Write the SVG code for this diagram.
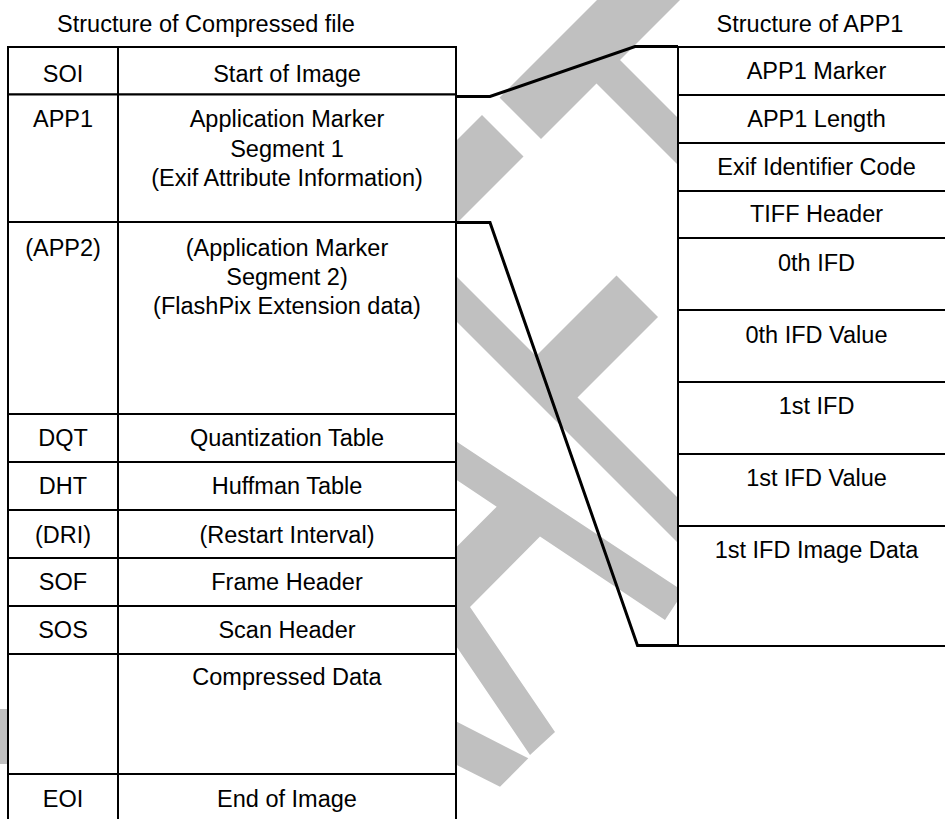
<svg xmlns="http://www.w3.org/2000/svg" width="945" height="819" viewBox="0 0 945 819">
<style>
.t{font-family:"Liberation Sans",Arial,sans-serif;font-size:23.5px;fill:#000;text-anchor:middle}
.c{fill:#fff;stroke:#000;stroke-width:2}
.conn{fill:none;stroke:#000;stroke-width:3;stroke-linejoin:miter}
.wm{fill:#c0c0c0}
</style>
<rect x="0" y="0" width="945" height="819" fill="#fff"/>
<g id="watermark">
<polygon class="wm" points="597,0 680,0 620,60 685,125 685,172 596.5,83.5 541,139 499.5,97.5"/>
<polygon class="wm" points="482,115 523.5,156.5 450,230 450,147"/>
<polygon class="wm" points="450,270 536,356 616.5,275.5 658,317 577.5,397.5 685,505 685,550 450,315"/>
<polygon class="wm" points="450,437.3 683.8,591.6 665,620 540,536.5 470,607 555,732 530,755 450,637 450,553.4 496.7,506.7 450,475.5"/>
<polygon class="wm" points="450,718.3 528.3,758.3 500,786.7 450,761.6"/>
<polygon class="wm" points="0,709 12,709 12,764 0,764"/>
</g>
<text class="t" x="206" y="31.5">Structure of Compressed file</text>
<text class="t" x="810" y="31.5">Structure of APP1</text>
<g id="SOI"><rect class="c" x="8" y="47" width="110" height="47.5"/><rect class="c" x="118" y="47" width="338" height="47.5"/><text class="t" x="63" y="81.5">SOI</text><text class="t" x="287" y="81.5">Start of Image</text></g>
<g id="APP1"><rect class="c" x="8" y="94.5" width="110" height="127.5"/><rect class="c" x="118" y="94.5" width="338" height="127.5"/><text class="t" x="63" y="127">APP1</text><text class="t" x="287" y="127">Application Marker</text><text class="t" x="287" y="156.5">Segment 1</text><text class="t" x="287" y="185.5">(Exif Attribute Information)</text></g>
<g id="APP2"><rect class="c" x="8" y="222" width="110" height="192"/><rect class="c" x="118" y="222" width="338" height="192"/><text class="t" x="63" y="255.5">(APP2)</text><text class="t" x="287" y="255.5">(Application Marker</text><text class="t" x="287" y="284.5">Segment 2)</text><text class="t" x="287" y="313.5">(FlashPix Extension data)</text></g>
<g id="DQT"><rect class="c" x="8" y="414" width="110" height="48"/><rect class="c" x="118" y="414" width="338" height="48"/><text class="t" x="63" y="446">DQT</text><text class="t" x="287" y="446">Quantization Table</text></g>
<g id="DHT"><rect class="c" x="8" y="462" width="110" height="48"/><rect class="c" x="118" y="462" width="338" height="48"/><text class="t" x="63" y="494">DHT</text><text class="t" x="287" y="494">Huffman Table</text></g>
<g id="DRI"><rect class="c" x="8" y="510" width="110" height="48"/><rect class="c" x="118" y="510" width="338" height="48"/><text class="t" x="63" y="542.5">(DRI)</text><text class="t" x="287" y="542.5">(Restart Interval)</text></g>
<g id="SOF"><rect class="c" x="8" y="558" width="110" height="48"/><rect class="c" x="118" y="558" width="338" height="48"/><text class="t" x="63" y="590">SOF</text><text class="t" x="287" y="590">Frame Header</text></g>
<g id="SOS"><rect class="c" x="8" y="606" width="110" height="48"/><rect class="c" x="118" y="606" width="338" height="48"/><text class="t" x="63" y="637.5">SOS</text><text class="t" x="287" y="637.5">Scan Header</text></g>
<g id="CompressedData"><rect class="c" x="8" y="654" width="110" height="120"/><rect class="c" x="118" y="654" width="338" height="120"/><text class="t" x="287" y="685">Compressed Data</text></g>
<g id="EOI"><rect class="c" x="8" y="774" width="110" height="60"/><rect class="c" x="118" y="774" width="338" height="60"/><text class="t" x="63" y="807">EOI</text><text class="t" x="287" y="807">End of Image</text></g>
<g id="APP1Marker"><rect class="c" x="678" y="47" width="290" height="48"/><text class="t" x="816.5" y="79">APP1 Marker</text></g>
<g id="APP1Length"><rect class="c" x="678" y="95" width="290" height="48"/><text class="t" x="816.5" y="127">APP1 Length</text></g>
<g id="ExifIdentifierCode"><rect class="c" x="678" y="143" width="290" height="48"/><text class="t" x="816.5" y="174.5">Exif Identifier Code</text></g>
<g id="TIFFHeader"><rect class="c" x="678" y="191" width="290" height="47"/><text class="t" x="816.5" y="222">TIFF Header</text></g>
<g id="IFD0"><rect class="c" x="678" y="238" width="290" height="72"/><text class="t" x="816.5" y="270.5">0th IFD</text></g>
<g id="IFD0Value"><rect class="c" x="678" y="310" width="290" height="72"/><text class="t" x="816.5" y="342.5">0th IFD Value</text></g>
<g id="IFD1"><rect class="c" x="678" y="382" width="290" height="72"/><text class="t" x="816.5" y="413.5">1st IFD</text></g>
<g id="IFD1Value"><rect class="c" x="678" y="454" width="290" height="72"/><text class="t" x="816.5" y="485.5">1st IFD Value</text></g>
<g id="IFD1ImageData"><rect class="c" x="678" y="526" width="290" height="120"/><text class="t" x="816.5" y="557.5">1st IFD Image Data</text></g>
<g id="connectors">
<polyline class="conn" points="456,96.5 490,96.5 635,46.5 678,46.5"/>
<polyline class="conn" points="456,222.5 490,222.5 637.5,645.5 678,645.5"/>
</g>
</svg>
